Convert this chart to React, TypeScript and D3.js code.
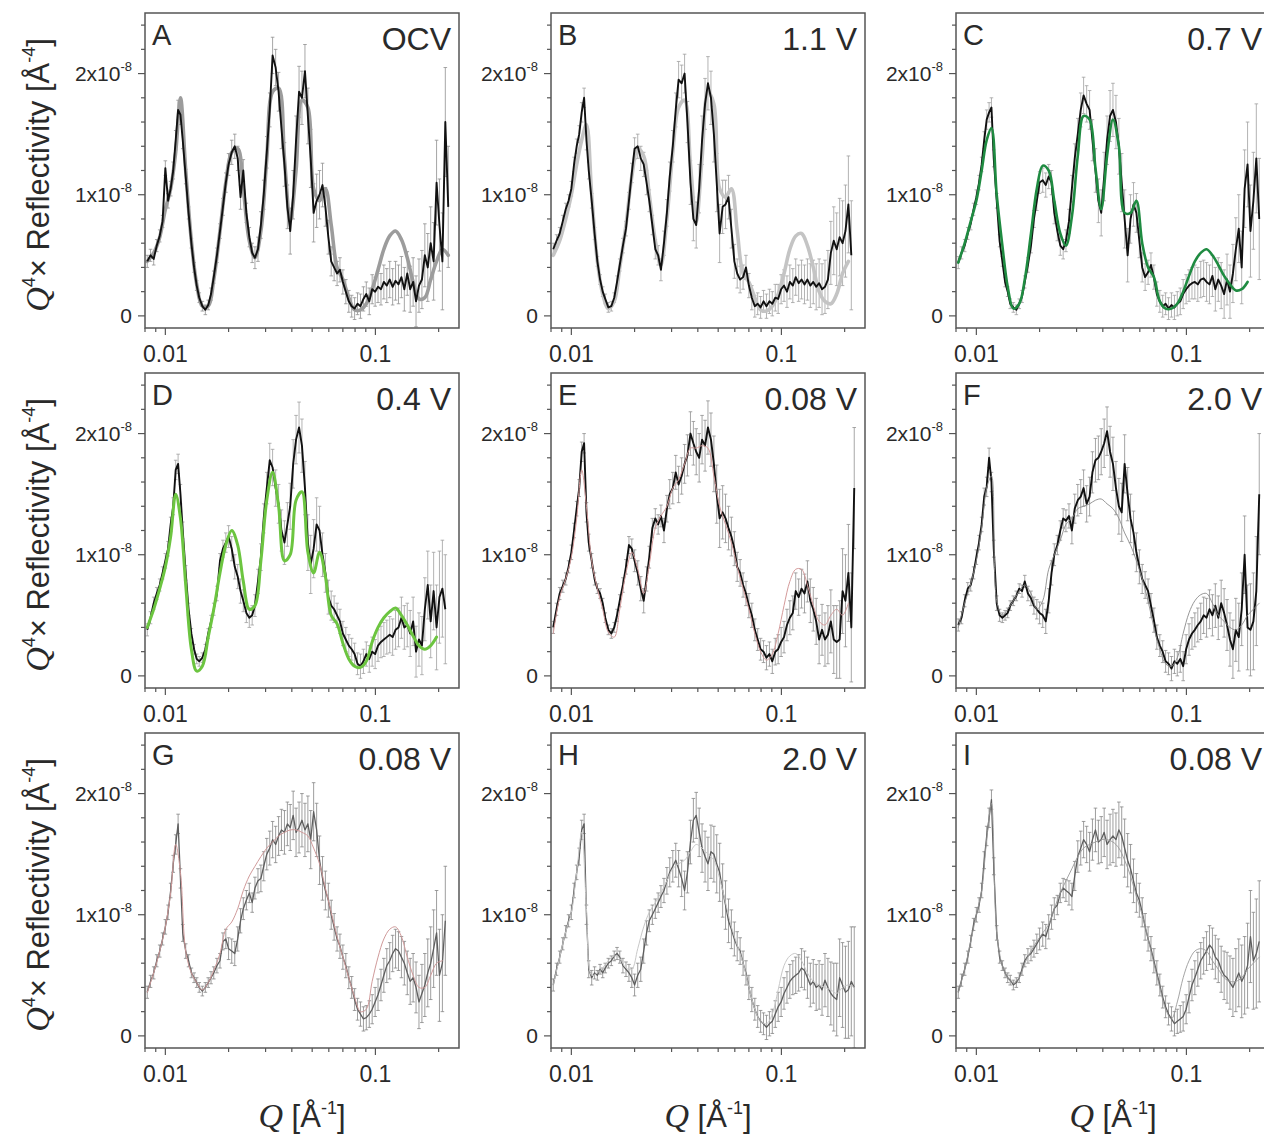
import React from 'react';
import * as d3 from 'd3';

// ---------- DATA (reflectivity x Q^4, in units of 1e-8 Å^-4) ----------
const Q_DATA = [0.0082, 0.0085, 0.0088, 0.0091, 0.0094, 0.0097, 0.0100, 0.0103, 0.0106, 0.0109,
  0.0112, 0.0115, 0.0118, 0.0121, 0.0125, 0.0129, 0.0133, 0.0137, 0.0141, 0.0145,
  0.0150, 0.0155, 0.0160, 0.0165, 0.0170, 0.0176, 0.0182, 0.0188, 0.0194, 0.0200,
  0.0207, 0.0214, 0.0221, 0.0228, 0.0235, 0.0243, 0.0251, 0.0259, 0.0267, 0.0276,
  0.0285, 0.0294, 0.0304, 0.0314, 0.0324, 0.0335, 0.0346, 0.0357, 0.0369, 0.0381,
  0.0393, 0.0406, 0.0419, 0.0433, 0.0447, 0.0462, 0.0477, 0.0492, 0.0508, 0.0525,
  0.0542, 0.0560, 0.0578, 0.0597, 0.0616, 0.0636, 0.0657, 0.0678, 0.0700, 0.0723,
  0.0747, 0.0771, 0.0796, 0.0822, 0.0849, 0.0877, 0.0905, 0.0935, 0.0965, 0.0997,
  0.1029, 0.1063, 0.1097, 0.1133, 0.1170, 0.1208, 0.1247, 0.1288, 0.1330, 0.1373,
  0.1418, 0.1464, 0.1512, 0.1561, 0.1612, 0.1665, 0.1719, 0.1775, 0.1833, 0.1893,
  0.1955, 0.2018, 0.2084, 0.2152, 0.2222];

const ERR = [0.05, 0.05, 0.05, 0.05, 0.05, 0.05, 0.06, 0.06, 0.06, 0.07,
  0.08, 0.08, 0.08, 0.07, 0.06, 0.05, 0.04, 0.04, 0.04, 0.04,
  0.04, 0.04, 0.04, 0.05, 0.05, 0.06, 0.06, 0.07, 0.08, 0.09,
  0.10, 0.10, 0.10, 0.10, 0.09, 0.08, 0.08, 0.08, 0.09, 0.10,
  0.11, 0.12, 0.13, 0.14, 0.15, 0.15, 0.16, 0.17, 0.18, 0.18,
  0.19, 0.20, 0.20, 0.21, 0.22, 0.22, 0.23, 0.24, 0.24, 0.22,
  0.20, 0.18, 0.16, 0.14, 0.12, 0.11, 0.10, 0.10, 0.10, 0.10,
  0.09, 0.09, 0.09, 0.09, 0.10, 0.10, 0.10, 0.11, 0.12, 0.12,
  0.13, 0.13, 0.14, 0.14, 0.15, 0.15, 0.16, 0.16, 0.17, 0.18,
  0.18, 0.19, 0.20, 0.21, 0.22, 0.24, 0.26, 0.28, 0.30, 0.32,
  0.35, 0.38, 0.40, 0.45, 0.50];

const Q_FIT = [0.0082, 0.0088, 0.0094, 0.0100, 0.0106, 0.0112, 0.0118, 0.0125, 0.0133, 0.0141,
  0.0150, 0.0160, 0.0170, 0.0182, 0.0194, 0.0207, 0.0221, 0.0235, 0.0251, 0.0267,
  0.0285, 0.0304, 0.0324, 0.0346, 0.0369, 0.0393, 0.0419, 0.0447, 0.0477, 0.0508,
  0.0542, 0.0578, 0.0616, 0.0657, 0.0700, 0.0747, 0.0796, 0.0849, 0.0905, 0.0965,
  0.1029, 0.1097, 0.1170, 0.1247, 0.1330, 0.1418, 0.1512, 0.1612, 0.1719, 0.1833,
  0.1955, 0.2084, 0.2222];

const DATA_A = [0.45, 0.50, 0.47, 0.58, 0.66, 0.78, 1.22, 0.95, 1.05, 1.20,
  1.45, 1.70, 1.66, 1.45, 1.15, 0.85, 0.60, 0.40, 0.25, 0.15,
  0.08, 0.05, 0.09, 0.18, 0.32, 0.50, 0.70, 0.90, 1.10, 1.25,
  1.35, 1.40, 1.30, 0.98, 1.20, 0.85, 0.65, 0.52, 0.48, 0.55,
  0.75, 1.00, 1.35, 1.70, 2.15, 2.05, 1.85, 1.55, 1.25, 0.90,
  0.70, 1.00, 1.45, 1.85, 1.80, 2.02, 1.65, 1.30, 0.85, 0.95,
  1.00, 1.08, 0.90, 0.65, 0.45, 0.40, 0.35, 0.38, 0.28, 0.20,
  0.12, 0.08, 0.06, 0.10, 0.08, 0.14, 0.18, 0.12, 0.22, 0.20,
  0.24, 0.22, 0.28, 0.25, 0.30, 0.24, 0.29, 0.26, 0.32, 0.22,
  0.35, 0.22, 0.28, 0.12, 0.25, 0.30, 0.50, 0.40, 0.60, 0.45,
  1.10, 0.75, 0.45, 1.60, 0.90];
const FIT_A = [0.45, 0.52, 0.65, 0.88, 1.05, 1.35, 1.80, 1.20, 0.62, 0.26,
  0.08, 0.08, 0.30, 0.70, 1.10, 1.35, 1.38, 1.05, 0.62, 0.48,
  0.70, 1.30, 1.85, 1.88, 1.30, 0.78, 1.20, 1.78, 1.72, 1.05,
  0.95, 1.05, 0.75, 0.40, 0.30, 0.15, 0.05, 0.05, 0.10, 0.22,
  0.38, 0.55, 0.66, 0.70, 0.63, 0.48, 0.28, 0.14, 0.15, 0.30,
  0.45, 0.55, 0.50];

const DATA_B = [0.55, 0.62, 0.68, 0.78, 0.88, 0.95, 1.05, 1.25, 1.40, 1.50,
  1.68, 1.80, 1.45, 1.20, 0.95, 0.68, 0.45, 0.30, 0.20, 0.14,
  0.07, 0.08, 0.15, 0.28, 0.42, 0.58, 0.72, 0.95, 1.18, 1.38,
  1.40, 1.30, 1.25, 1.10, 0.95, 0.75, 0.55, 0.50, 0.38, 0.60,
  0.85, 1.15, 1.40, 1.70, 1.95, 1.92, 2.00, 1.60, 1.10, 0.80,
  0.75, 1.05, 1.45, 1.75, 1.92, 1.80, 1.50, 1.10, 0.68, 0.90,
  0.92, 0.98, 0.72, 0.45, 0.35, 0.30, 0.32, 0.40, 0.25, 0.15,
  0.08, 0.10, 0.07, 0.12, 0.08, 0.12, 0.10, 0.15, 0.14, 0.22,
  0.25, 0.20, 0.28, 0.25, 0.32, 0.27, 0.30, 0.26, 0.30, 0.25,
  0.28, 0.24, 0.27, 0.22, 0.24, 0.30, 0.52, 0.62, 0.55, 0.65,
  0.60, 0.70, 0.92, 0.50, null];
const FIT_B = [0.50, 0.62, 0.80, 1.00, 1.25, 1.45, 1.58, 1.00, 0.45, 0.18,
  0.06, 0.12, 0.40, 0.75, 1.15, 1.38, 1.32, 1.00, 0.62, 0.42,
  0.80, 1.35, 1.72, 1.78, 1.25, 0.78, 1.30, 1.85, 1.75, 1.05,
  0.98, 1.05, 0.70, 0.35, 0.28, 0.15, 0.05, 0.04, 0.08, 0.18,
  0.35, 0.55, 0.66, 0.68, 0.58, 0.40, 0.20, 0.12, 0.10, 0.18,
  0.35, 0.45, null];

const DATA_C = [0.44, 0.52, 0.58, 0.68, 0.76, 0.88, 0.98, 1.10, 1.25, 1.45,
  1.62, 1.68, 1.72, 1.30, 0.95, 0.62, 0.45, 0.28, 0.20, 0.10,
  0.07, 0.05, 0.10, 0.16, 0.28, 0.42, 0.58, 0.80, 0.95, 1.10,
  1.12, 1.08, 1.15, 1.10, 0.85, 0.70, 0.58, 0.55, 0.62, 0.78,
  1.05, 1.30, 1.50, 1.70, 1.82, 1.75, 1.70, 1.45, 1.20, 0.95,
  0.85, 1.15, 1.45, 1.65, 1.70, 1.60, 1.40, 1.10, 0.80, 0.50,
  0.80, 0.92, 0.85, 0.62, 0.40, 0.32, 0.36, 0.42, 0.32, 0.18,
  0.12, 0.08, 0.10, 0.06, 0.09, 0.07, 0.10, 0.12, 0.18, 0.22,
  0.25, 0.27, 0.28, 0.26, 0.30, 0.31, 0.28, 0.26, 0.33, 0.22,
  0.30, 0.25, 0.18, 0.30, 0.20, 0.35, 0.55, 0.72, 0.40, 1.05,
  1.25, 0.70, 0.95, 1.30, 0.80];
const FIT_C = [0.44, 0.60, 0.78, 0.95, 1.20, 1.45, 1.55, 1.00, 0.58, 0.24,
  0.06, 0.10, 0.30, 0.68, 1.05, 1.24, 1.20, 0.95, 0.68, 0.58,
  0.82, 1.32, 1.65, 1.62, 1.22, 0.88, 1.32, 1.62, 1.40, 0.85,
  0.85, 0.95, 0.60, 0.40, 0.32, 0.12, 0.06, 0.06, 0.10, 0.20,
  0.33, 0.45, 0.52, 0.55, 0.50, 0.42, 0.33, 0.26, 0.21, 0.22,
  0.28, null, null];

const DATA_D = [0.38, 0.48, 0.60, 0.68, 0.75, 0.85, 0.95, 1.05, 1.25, 1.40,
  1.70, 1.75, 1.50, 1.20, 0.85, 0.55, 0.35, 0.22, 0.14, 0.12,
  0.15, 0.22, 0.35, 0.45, 0.55, 0.68, 0.95, 1.05, 1.10, 1.15,
  1.05, 0.90, 0.82, 0.70, 0.62, 0.52, 0.48, 0.50, 0.58, 0.78,
  0.98, 1.30, 1.55, 1.78, 1.72, 1.55, 1.42, 1.20, 1.10, 1.25,
  1.40, 1.75, 1.95, 2.05, 1.90, 1.55, 1.10, 0.92, 1.05, 1.25,
  1.20, 1.00, 0.85, 0.65, 0.58, 0.55, 0.50, 0.45, 0.35, 0.30,
  0.25, 0.22, 0.18, 0.10, 0.08, 0.12, 0.18, 0.14, 0.20, 0.18,
  0.25, 0.28, 0.30, 0.32, 0.34, 0.32, 0.38, 0.40, 0.48, 0.40,
  0.42, 0.35, 0.45, 0.20, 0.30, 0.25, 0.55, 0.75, 0.45, 0.70,
  0.40, 0.65, 0.72, 0.55, null];
const FIT_D = [0.40, 0.55, 0.72, 0.90, 1.15, 1.50, 1.30, 0.75, 0.22, 0.04,
  0.08, 0.32, 0.55, 0.85, 1.08, 1.20, 1.08, 0.78, 0.55, 0.58,
  0.95, 1.45, 1.68, 1.40, 0.95, 1.00, 1.45, 1.52, 1.02, 0.85,
  1.02, 0.82, 0.50, 0.43, 0.27, 0.14, 0.08, 0.07, 0.12, 0.28,
  0.40, 0.48, 0.53, 0.56, 0.50, 0.42, 0.33, 0.25, 0.22, 0.25,
  0.32, null, null];

const DATA_E = [0.40, 0.55, 0.68, 0.74, 0.80, 0.90, 1.02, 1.20, 1.38, 1.55,
  1.85, 1.92, 1.35, 1.10, 0.95, 0.80, 0.72, 0.68, 0.60, 0.48,
  0.38, 0.35, 0.40, 0.50, 0.62, 0.75, 0.90, 1.08, 1.05, 0.95,
  0.85, 0.72, 0.62, 0.80, 0.98, 1.22, 1.30, 1.25, 1.32, 1.20,
  1.38, 1.50, 1.55, 1.68, 1.58, 1.65, 1.75, 1.82, 2.00, 1.92,
  1.85, 1.80, 1.95, 1.90, 2.05, 1.95, 1.75, 1.50, 1.30, 1.35,
  1.30, 1.22, 1.15, 1.05, 0.90, 0.85, 0.75, 0.68, 0.58, 0.50,
  0.38, 0.30, 0.22, 0.20, 0.15, 0.18, 0.12, 0.20, 0.22, 0.28,
  0.32, 0.42, 0.48, 0.52, 0.70, 0.65, 0.72, 0.68, 0.78, 0.62,
  0.55, 0.45, 0.30, 0.38, 0.30, 0.34, 0.45, 0.30, 0.28, 0.30,
  0.70, 0.62, 0.85, 0.40, 1.55];
const FIT_E = [0.35, 0.65, 0.80, 0.98, 1.30, 1.70, 1.40, 0.95, 0.72, 0.55,
  0.36, 0.32, 0.55, 0.85, 1.02, 0.88, 0.68, 0.92, 1.22, 1.32,
  1.40, 1.55, 1.62, 1.75, 1.88, 1.88, 1.90, 1.88, 1.65, 1.40,
  1.25, 1.10, 0.90, 0.72, 0.55, 0.35, 0.20, 0.13, 0.18, 0.35,
  0.58, 0.78, 0.88, 0.88, 0.75, 0.58, 0.45, 0.42, 0.50, 0.55,
  0.50, 0.60, null];

const DATA_F = [0.42, 0.48, 0.62, 0.72, 0.75, 0.85, 0.98, 1.10, 1.25, 1.48,
  1.56, 1.80, 1.60, 1.05, 0.60, 0.50, 0.48, 0.50, 0.52, 0.58,
  0.62, 0.66, 0.72, 0.70, 0.78, 0.68, 0.64, 0.58, 0.55, 0.52,
  0.50, 0.45, 0.62, 0.85, 1.00, 1.08, 1.20, 1.30, 1.28, 1.32,
  1.20, 1.38, 1.45, 1.48, 1.55, 1.42, 1.48, 1.68, 1.78, 1.80,
  1.85, 1.92, 2.02, 1.85, 1.75, 1.55, 1.40, 1.35, 1.75, 1.50,
  1.30, 1.18, 1.02, 0.90, 0.80, 0.75, 0.70, 0.58, 0.46, 0.32,
  0.25, 0.20, 0.12, 0.10, 0.06, 0.12, 0.10, 0.14, 0.08, 0.22,
  0.30, 0.35, 0.38, 0.42, 0.45, 0.50, 0.48, 0.55, 0.50, 0.58,
  0.48, 0.60, 0.52, 0.42, 0.30, 0.22, 0.38, 0.32, 0.55, 1.00,
  0.40, 0.38, 0.45, 0.70, 1.50];
const FIT_F = [0.40, 0.60, 0.76, 0.95, 1.22, 1.55, 1.65, 0.62, 0.50, 0.55,
  0.62, 0.70, 0.75, 0.68, 0.55, 0.62, 0.88, 1.00, 1.12, 1.25,
  1.30, 1.38, 1.40, 1.42, 1.45, 1.46, 1.42, 1.38, 1.30, 1.18,
  1.08, 0.95, 0.80, 0.62, 0.40, 0.22, 0.10, 0.08, 0.15, 0.35,
  0.52, 0.62, 0.67, 0.68, 0.60, 0.50, 0.45, 0.40, 0.38, 0.42,
  0.50, 0.55, 0.60];

const DATA_G = [0.36, 0.45, 0.52, 0.62, 0.70, 0.80, 0.90, 1.02, 1.20, 1.42,
  1.58, 1.75, 1.30, 0.85, 0.70, 0.62, 0.52, 0.48, 0.44, 0.40,
  0.37, 0.40, 0.44, 0.48, 0.52, 0.58, 0.62, 0.78, 0.80, 0.72,
  0.70, 0.68, 0.80, 0.95, 1.05, 1.12, 1.18, 1.10, 1.22, 1.28,
  1.30, 1.40, 1.50, 1.55, 1.62, 1.58, 1.65, 1.70, 1.68, 1.75,
  1.72, 1.82, 1.68, 1.72, 1.78, 1.70, 1.75, 1.62, 1.85, 1.70,
  1.45, 1.30, 1.20, 1.12, 1.00, 0.90, 0.80, 0.74, 0.65, 0.58,
  0.48, 0.40, 0.30, 0.22, 0.18, 0.14, 0.15, 0.18, 0.22, 0.28,
  0.34, 0.42, 0.50, 0.58, 0.62, 0.68, 0.72, 0.70, 0.65, 0.60,
  0.52, 0.45, 0.48, 0.40, 0.28, 0.35, 0.42, 0.52, 0.60, 0.72,
  0.85, 0.50, 0.60, 0.95, null];
const FIT_G = [0.36, 0.52, 0.70, 0.90, 1.18, 1.58, 1.35, 0.70, 0.52, 0.44,
  0.38, 0.44, 0.54, 0.68, 0.88, 0.94, 1.05, 1.20, 1.32, 1.40,
  1.48, 1.55, 1.60, 1.65, 1.68, 1.70, 1.70, 1.68, 1.65, 1.55,
  1.42, 1.22, 1.02, 0.82, 0.65, 0.48, 0.32, 0.20, 0.22, 0.45,
  0.65, 0.80, 0.88, 0.90, 0.82, 0.65, 0.50, 0.40, 0.40, 0.50,
  0.60, 0.62, null];

const DATA_H = [0.42, 0.55, 0.65, 0.76, 0.86, 0.95, 1.02, 1.20, 1.35, 1.48,
  1.70, 1.75, 1.00, 0.55, 0.48, 0.52, 0.50, 0.55, 0.52, 0.56,
  0.60, 0.62, 0.66, 0.68, 0.65, 0.58, 0.55, 0.52, 0.48, 0.42,
  0.50, 0.55, 0.70, 0.85, 0.95, 1.00, 1.05, 1.10, 1.15, 1.20,
  1.28, 1.35, 1.40, 1.45, 1.38, 1.30, 1.20, 1.35, 1.60, 1.78,
  1.82, 1.68, 1.55, 1.48, 1.42, 1.52, 1.50, 1.42, 1.35, 1.20,
  1.08, 0.95, 0.88, 0.80, 0.74, 0.70, 0.60, 0.52, 0.40, 0.30,
  0.22, 0.16, 0.12, 0.10, 0.07, 0.10, 0.12, 0.18, 0.24, 0.28,
  0.35, 0.40, 0.45, 0.48, 0.50, 0.52, 0.56, 0.54, 0.48, 0.42,
  0.45, 0.40, 0.42, 0.38, 0.46, 0.40, 0.35, 0.32, 0.30, 0.48,
  0.42, 0.36, 0.38, 0.45, 0.40];
const FIT_H = [0.42, 0.65, 0.86, 1.02, 1.35, 1.68, 1.05, 0.50, 0.52, 0.56,
  0.62, 0.66, 0.64, 0.56, 0.55, 0.72, 0.90, 1.02, 1.10, 1.18,
  1.28, 1.38, 1.42, 1.45, 1.52, 1.58, 1.55, 1.50, 1.45, 1.30,
  1.10, 0.90, 0.75, 0.60, 0.40, 0.22, 0.12, 0.10, 0.18, 0.38,
  0.58, 0.66, 0.68, 0.62, 0.52, 0.45, 0.42, 0.40, 0.38, 0.35,
  0.40, 0.42, 0.40];

const DATA_I = [0.36, 0.46, 0.55, 0.65, 0.78, 0.92, 1.00, 1.08, 1.20, 1.45,
  1.65, 1.80, 1.95, 1.40, 0.85, 0.65, 0.58, 0.52, 0.48, 0.46,
  0.42, 0.44, 0.48, 0.55, 0.62, 0.66, 0.68, 0.72, 0.76, 0.80,
  0.84, 0.82, 0.90, 0.98, 1.05, 1.08, 1.18, 1.22, 1.20, 1.18,
  1.15, 1.32, 1.48, 1.55, 1.62, 1.58, 1.52, 1.62, 1.70, 1.60,
  1.62, 1.68, 1.58, 1.62, 1.65, 1.62, 1.70, 1.65, 1.55, 1.45,
  1.38, 1.28, 1.18, 1.12, 1.02, 0.90, 0.80, 0.72, 0.62, 0.52,
  0.42, 0.32, 0.24, 0.18, 0.14, 0.10, 0.12, 0.14, 0.16, 0.22,
  0.32, 0.42, 0.48, 0.55, 0.62, 0.66, 0.70, 0.75, 0.72, 0.65,
  0.62, 0.55, 0.50, 0.48, 0.44, 0.40, 0.46, 0.52, 0.45, 0.50,
  0.58, 0.82, 0.62, 0.68, 0.78];
const FIT_I = [0.36, 0.55, 0.78, 1.00, 1.20, 1.62, 1.92, 0.85, 0.58, 0.48,
  0.44, 0.48, 0.60, 0.70, 0.78, 0.85, 0.92, 1.05, 1.18, 1.28,
  1.38, 1.48, 1.55, 1.58, 1.60, 1.62, 1.62, 1.60, 1.55, 1.45,
  1.32, 1.15, 1.00, 0.80, 0.60, 0.40, 0.22, 0.14, 0.28, 0.48,
  0.62, 0.70, 0.72, 0.70, 0.62, 0.55, 0.48, 0.45, 0.45, 0.48,
  0.55, 0.60, 0.65];

const PANEL_IDS = ['A', 'B', 'C', 'D', 'E', 'F', 'G', 'H', 'I'];
const PANEL_LABELS = ['OCV', '1.1 V', '0.7 V', '0.4 V', '0.08 V', '2.0 V', '0.08 V', '2.0 V', '0.08 V'];
const X_TICK_LABELS = ['0.01', '0.1'];
const Y_MAJOR = [0, 1, 2];

// ---------- STYLE ----------
const PANEL_STYLES = [
  { data: '#111', dataW: 1.9, err: '#8f8f8f', fit: '#9c9c9c', fitW: 3.6, fitTop: false },
  { data: '#111', dataW: 1.9, err: '#a0a0a0', fit: '#c4c4c4', fitW: 3.6, fitTop: false },
  { data: '#111', dataW: 1.9, err: '#a0a0a0', fit: '#1f8b41', fitW: 2.6, fitTop: true },
  { data: '#111', dataW: 1.9, err: '#a0a0a0', fit: '#6cc540', fitW: 3.0, fitTop: true },
  { data: '#111', dataW: 1.9, err: '#8f8f8f', fit: '#d49a9a', fitW: 1.0, fitTop: true },
  { data: '#111', dataW: 1.9, err: '#8f8f8f', fit: '#8a8a8a', fitW: 0.9, fitTop: true },
  { data: '#5e5e5e', dataW: 1.3, err: '#858585', fit: '#d09a9a', fitW: 1.0, fitTop: true },
  { data: '#5e5e5e', dataW: 1.3, err: '#858585', fit: '#c8c8c8', fitW: 1.0, fitTop: true },
  { data: '#5e5e5e', dataW: 1.3, err: '#858585', fit: '#9a9a9a', fitW: 0.9, fitTop: true },
];

const ALL_DATA = [DATA_A, DATA_B, DATA_C, DATA_D, DATA_E, DATA_F, DATA_G, DATA_H, DATA_I];
const ALL_FIT = [FIT_A, FIT_B, FIT_C, FIT_D, FIT_E, FIT_F, FIT_G, FIT_H, FIT_I];

const PW = 314;
const PH = 315;
const COL_X = [145, 551, 956];
const ROW_Y = [13, 373, 733];
const SANS = '"Liberation Sans", Arial, Helvetica, sans-serif';
const SERIF = '"Liberation Serif", "DejaVu Serif", "Times New Roman", serif';
const AXIS = '#555';
const TEXT = '#2a2a2a';

const x = d3.scaleLog().domain([0.008, 0.25]).range([0, PW]);
const y = d3.scaleLinear().domain([-0.1, 2.5]).range([PH, 0]);

type Pt = [number, number | null];
const line = d3.line<Pt>()
  .defined(d => d[1] != null && !isNaN(d[1] as number))
  .x(d => x(d[0]))
  .y(d => y(d[1] as number));
const fitLine = d3.line<Pt>()
  .defined(d => d[1] != null)
  .x(d => x(d[0]))
  .y(d => y(d[1] as number))
  .curve(d3.curveCatmullRom.alpha(0.5));

const xTicks = x.ticks().filter(t => t >= 0.008 && t <= 0.25);
const yTicks = d3.range(0, 25, 2).map(v => v / 10);

function Panel({ idx }: { idx: number }) {
  const col = idx % 3;
  const row = Math.floor(idx / 3);
  const x0 = COL_X[col];
  const y0 = ROW_Y[row];
  const st = PANEL_STYLES[idx];
  const data: Pt[] = Q_DATA.map((q, i) => [q, ALL_DATA[idx][i] ?? null]);
  const fit: Pt[] = Q_FIT.map((q, i) => [q, ALL_FIT[idx][i] ?? null]);
  const clipId = `clip-${PANEL_IDS[idx]}`;

  const errBars = data.filter(d => d[1] != null).map((d, i) => {
    const qi = Q_DATA.indexOf(d[0]);
    const e = ERR[qi] ?? 0.1;
    const px = x(d[0]);
    const yl = y((d[1] as number) - e);
    const yh = y((d[1] as number) + e);
    return (
      <g key={i}>
        <line x1={px} x2={px} y1={yl} y2={yh} />
        <line x1={px - 1.8} x2={px + 1.8} y1={yl} y2={yl} />
        <line x1={px - 1.8} x2={px + 1.8} y1={yh} y2={yh} />
      </g>
    );
  });

  const fitPath = (
    <path d={fitLine(fit) || ''} fill="none" stroke={st.fit} strokeWidth={st.fitW}
      strokeLinejoin="round" strokeLinecap="round" />
  );

  return (
    <g transform={`translate(${x0},${y0})`}>
      <defs>
        <clipPath id={clipId}>
          <rect x={0} y={0} width={PW} height={PH} />
        </clipPath>
      </defs>
      <g clipPath={`url(#${clipId})`}>
        <g stroke={st.err} strokeWidth={0.8}>{errBars}</g>
        {!st.fitTop && fitPath}
        <path d={line(data) || ''} fill="none" stroke={st.data} strokeWidth={st.dataW}
          strokeLinejoin="round" />
        {st.fitTop && fitPath}
      </g>
      <rect x={0} y={0} width={PW} height={PH} fill="none" stroke={AXIS} strokeWidth={1.5} />
      {yTicks.map(v => {
        const major = Y_MAJOR.includes(v);
        return <line key={'y' + v} x1={major ? -7 : -4} x2={0} y1={y(v)} y2={y(v)}
          stroke={AXIS} strokeWidth={1.2} />;
      })}
      {xTicks.map(t => {
        const major = Math.abs(Math.log10(t) - Math.round(Math.log10(t))) < 1e-6;
        return <line key={'x' + t} x1={x(t)} x2={x(t)} y1={PH} y2={PH + (major ? 7 : 4)}
          stroke={AXIS} strokeWidth={1.2} />;
      })}
      {Y_MAJOR.map(v => (
        <text key={'yl' + v} x={-13} y={y(v) + 7.5} textAnchor="end" fontFamily={SANS}
          fontSize={21} fill={TEXT}>
          {v === 0 ? '0' : (
            <>
              <tspan>{`${v}x10`}</tspan>
              <tspan fontSize={13} dy={-10}>-8</tspan>
            </>
          )}
        </text>
      ))}
      {[0.01, 0.1].map((t, i) => (
        <text key={'xl' + t} x={x(t)} y={PH + 34} textAnchor="middle" fontFamily={SANS}
          fontSize={23} fill={TEXT}>{X_TICK_LABELS[i]}</text>
      ))}
      <text x={7} y={32} fontFamily={SANS} fontSize={29} fill={TEXT}>{PANEL_IDS[idx]}</text>
      <text x={PW - 8} y={37} textAnchor="end" fontFamily={SANS} fontSize={32}
        fill={TEXT}>{PANEL_LABELS[idx]}</text>
    </g>
  );
}

function YTitle({ row }: { row: number }) {
  const cy = ROW_Y[row] + 162;
  return (
    <text transform={`translate(49,${cy}) rotate(-90)`} textAnchor="middle"
      fontFamily={SANS} fontSize={31} fill={TEXT}>
      <tspan fontFamily={SERIF} fontStyle="italic" fontSize={34}>Q</tspan>
      <tspan fontSize={18} dy={-14}>4</tspan>
      <tspan dy={14}>× Reflectivity [Å</tspan>
      <tspan fontSize={18} dy={-14}>-4</tspan>
      <tspan dy={14}>]</tspan>
    </text>
  );
}

function XTitle({ col }: { col: number }) {
  const cx = COL_X[col] + PW / 2;
  return (
    <text x={cx} y={1127} textAnchor="middle" fontFamily={SANS} fontSize={31} fill={TEXT}>
      <tspan fontFamily={SERIF} fontStyle="italic" fontSize={34}>Q</tspan>
      <tspan> [Å</tspan>
      <tspan fontSize={18} dy={-13}>-1</tspan>
      <tspan dy={13}>]</tspan>
    </text>
  );
}

export default function App() {
  return (
    <div style={{ position: 'absolute', left: 0, top: 0, width: 1264, height: 1144, overflow: 'hidden', background: '#fff' }}>
      <svg width={1264} height={1144} viewBox="0 0 1264 1144" style={{ display: 'block' }}>
        <rect x={0} y={0} width={1264} height={1144} fill="#fff" />
        {PANEL_IDS.map((_, i) => <Panel key={i} idx={i} />)}
        {[0, 1, 2].map(r => <YTitle key={'yt' + r} row={r} />)}
        {[0, 1, 2].map(c => <XTitle key={'xt' + c} col={c} />)}
      </svg>
    </div>
  );
}
